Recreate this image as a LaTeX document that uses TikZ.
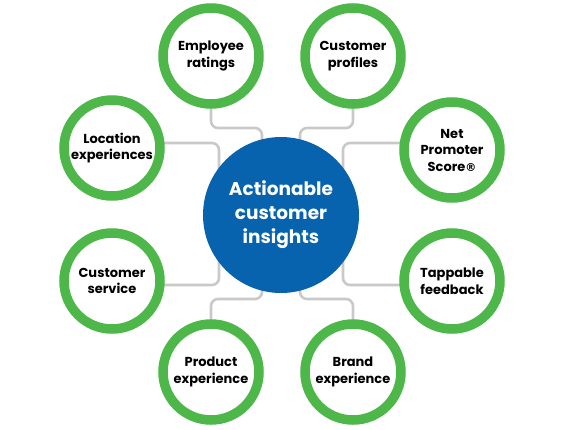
\documentclass[tikz,border=0pt]{standalone}
\usepackage{fontspec}
\setmainfont{Poppins}
\newfontfamily\regfont{DejaVu Sans}
\definecolor{ringgreen}{HTML}{4DB74A}
\definecolor{hubblue}{HTML}{0863AE}
\definecolor{linkgray}{HTML}{C9C9C9}
\begin{document}
\begin{tikzpicture}[x=1pt,y=-1pt,
  ring/.style={circle,draw=ringgreen,line width=9.5pt,fill=white,minimum size=96pt,inner sep=0pt,align=center,font=\bfseries\fontsize{13}{16.5}\selectfont},
  hub/.style={circle,fill=hubblue,minimum size=156pt,inner sep=0pt,align=center,text=white,font=\bfseries\fontsize{18.5}{24}\selectfont},
  link/.style={draw=linkgray,line width=2.6pt,rounded corners=7pt}]
\useasboundingbox (0,0) rectangle (565,429);
\coordinate (c) at (281,215);
% connectors
\coordinate (k1) at (211,128);
\coordinate (k2) at (353,128);
\coordinate (k3) at (219,143);
\coordinate (k4) at (343,143);
\coordinate (k5) at (219,285);
\coordinate (k6) at (343,285);
\coordinate (k7) at (211,299);
\coordinate (k8) at (353,299);
\draw[link] (211,90) -- (k1) -- (262,128) -- (262,150);
\draw[link] (353,90) -- (k2) -- (300,128) -- (300,150);
\draw[link] (150,143) -- (k3) -- (219,175);
\draw[link] (410,143) -- (k4) -- (343,175);
\draw[link] (150,285) -- (k5) -- (219,253);
\draw[link] (410,285) -- (k6) -- (343,253);
\draw[link] (211,330) -- (k7) -- (262,299) -- (262,280);
\draw[link] (353,330) -- (k8) -- (300,299) -- (300,280);
% hub
\node[hub] (hub) at (c) {Actionable\\customer\\insights};
% rings
\node[ring] (emp) at (211,56) {Employee\\ratings};
\node[ring] (prof) at (353,56) {Customer\\profiles};
\node[ring] (loc) at (112,148) {Location\\experiences};
\node[ring] (nps) at (452,150) {Net\\Promoter\\Score{\regfont\fontsize{11}{11}\selectfont ®}};
\node[ring] (serv) at (112,281) {Customer\\service};
\node[ring] (tap) at (452,281) {Tappable\\feedback};
\node[ring] (prod) at (211,372) {Product\\experience};
\node[ring] (brand) at (353,372) {Brand\\experience};
\end{tikzpicture}
\end{document}
